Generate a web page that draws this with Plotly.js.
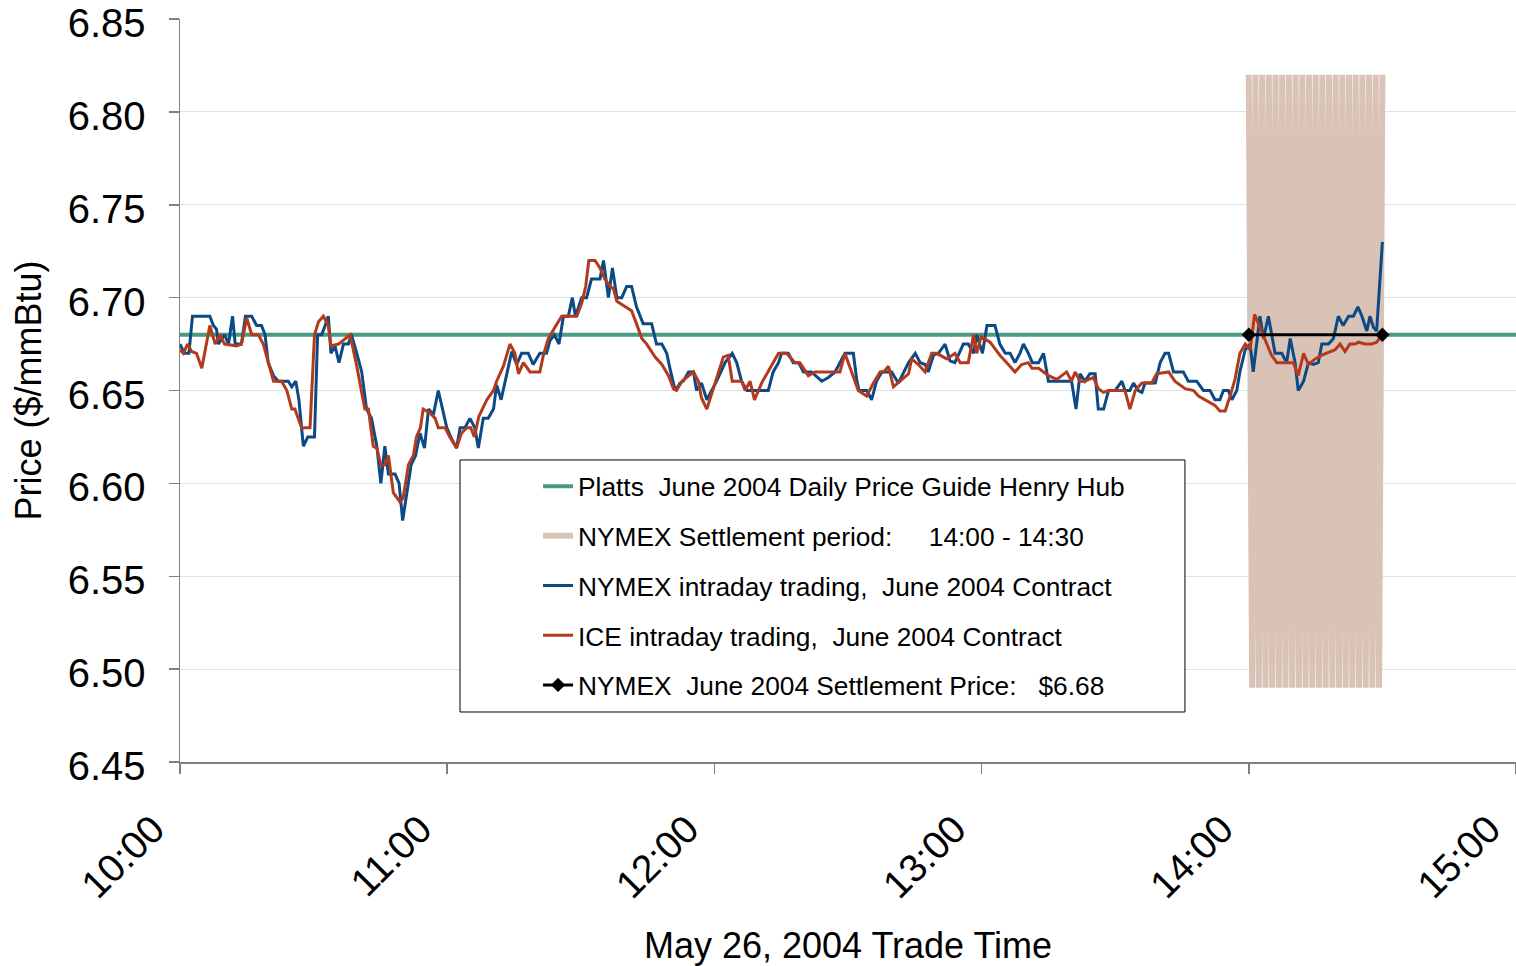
<!DOCTYPE html>
<html>
<head>
<meta charset="utf-8">
<script src="https://cdn.plot.ly/plotly-3.0.1.min.js"></script>
<style>
  html, body { margin: 0; padding: 0; background: #ffffff; }
  #chart { width: 1516px; height: 966px; }
</style>
</head>
<body>
<div id="chart"></div>
<script>
// Time is given in minutes after 10:00 on May 26, 2004
const hourTicks = [0, 60, 120, 180, 240, 300];
const hourLabels = ['10:00', '11:00', '12:00', '13:00', '14:00', '15:00'];
const priceTicks = [6.45, 6.50, 6.55, 6.60, 6.65, 6.70, 6.75, 6.80, 6.85];

// Platts June 2004 Daily Price Guide Henry Hub
const plattsT = [0, 300];
const plattsP = [6.68, 6.68];

// NYMEX settlement period 14:00 - 14:30 (drawn as a dense zig-zag band)
const settleBandT = [240, 240.75, 241.5, 242.25, 243, 243.75, 244.5, 245.25, 246, 246.75,
  247.5, 248.25, 249, 249.75, 250.5, 251.25, 252, 252.75, 253.5, 254.25,
  255, 255.75, 256.5, 257.25, 258, 258.75, 259.5, 260.25, 261, 261.75,
  262.5, 263.25, 264, 264.75, 265.5, 266.25, 267, 267.75, 268.5, 269.25, 270];
const settleBandP = [6.82, 6.49, 6.82, 6.49, 6.82, 6.49, 6.82, 6.49, 6.82, 6.49,
  6.82, 6.49, 6.82, 6.49, 6.82, 6.49, 6.82, 6.49, 6.82, 6.49,
  6.82, 6.49, 6.82, 6.49, 6.82, 6.49, 6.82, 6.49, 6.82, 6.49,
  6.82, 6.49, 6.82, 6.49, 6.82, 6.49, 6.82, 6.49, 6.82, 6.49, 6.82];

// NYMEX intraday trading, June 2004 contract
const nymexT = [0, 1, 2, 2.8, 6.7, 7.5, 8.2, 8.6, 10, 10.9, 11.8, 12.4, 13.8, 14.7, 16.1, 17.2, 18.3, 19.1, 19.8, 21,
  22.1, 24.3, 25.1, 26, 26.7, 27.7, 28.7, 30.2, 30.9, 31.8, 32.6, 33.3, 33.9, 34.8, 35.7, 36.7, 37.8, 38.5, 39.7, 40.8,
  41.9, 43, 44.2, 45.1, 46, 46.8, 48.3, 49.2, 50, 50.9, 51.9, 52.9, 53.9, 54.9, 55.8, 56.9, 58, 59.9, 61, 62.1,
  62.9, 64, 65.1, 66.2, 67, 68.1, 69.2, 70.4, 71.1, 72.1, 73.4, 74.5, 75.6, 76.7, 78.2, 79.3, 80.8, 82.3, 83.1, 84.1,
  85.1, 86.1, 87.2, 88.1, 88.8, 90.2, 91.3, 92.4, 94.3, 95.1, 96.2, 97.1, 98.1, 99.2, 100.3, 101.4, 102.5, 104, 105.9, 107,
  108.2, 109.3, 110, 111.2, 112.3, 113, 114.2, 115.3, 116, 117.1, 118.3, 120.5, 122.4, 124, 125, 126.1, 127.3, 130.6, 132.1, 133.2,
  134.4, 135.1, 136.6, 137.7, 138.9, 140, 141.8, 144.1, 145.6, 147.1, 148.2, 149.3, 151.2, 152, 152.5, 154.2, 155.3, 156.4, 157.6, 159.8,
  161.3, 162.4, 163.6, 165.1, 166.2, 167.3, 168, 169.2, 170.3, 171.8, 172.9, 174, 175.9, 177, 178.2, 178.9, 180.2, 181.2, 183, 184.1,
  185.3, 186.4, 187.5, 188.6, 189.4, 190.5, 191.4, 192.8, 193.9, 195, 199.5, 200.2, 201.2, 202.1, 203.2, 204.3, 205.5, 206.2, 207.4, 208.5,
  210, 211.5, 212.2, 213.3, 214.1, 215.2, 216, 216.7, 219, 220.1, 221.2, 222, 223.1, 225.3, 226.4, 228.3, 229.8, 231.3, 232.4, 233.5,
  234.3, 235.4, 236.2, 237.3, 238, 239.2, 240.3, 241, 242.5, 243.3, 244.4, 245.1, 245.9, 247.4, 248.5, 249.3, 250.4, 251.1, 252.3, 253.4,
  254.5, 255.6, 256.4, 257.9, 259, 260.1, 261.2, 262.4, 263.5, 264.5, 265.4, 266.5, 267.2, 268, 268.7, 270];
const nymexP = [6.675, 6.67, 6.67, 6.69, 6.69, 6.685, 6.683, 6.675, 6.68, 6.675, 6.69, 6.675, 6.675, 6.69, 6.69, 6.685, 6.685, 6.68, 6.665, 6.658,
  6.655, 6.655, 6.652, 6.655, 6.645, 6.62, 6.625, 6.625, 6.68, 6.68, 6.685, 6.69, 6.67, 6.674, 6.665, 6.675, 6.675, 6.68, 6.67, 6.66,
  6.64, 6.635, 6.62, 6.60, 6.62, 6.605, 6.605, 6.60, 6.58, 6.595, 6.61, 6.615, 6.627, 6.619, 6.64, 6.637, 6.65, 6.63, 6.624, 6.619,
  6.63, 6.63, 6.635, 6.63, 6.619, 6.635, 6.635, 6.64, 6.653, 6.645, 6.66, 6.671, 6.664, 6.67, 6.67, 6.664, 6.67, 6.67, 6.677, 6.68,
  6.675, 6.69, 6.69, 6.70, 6.69, 6.70, 6.70, 6.71, 6.71, 6.72, 6.70, 6.716, 6.70, 6.70, 6.706, 6.706, 6.695, 6.686, 6.686, 6.675,
  6.675, 6.67, 6.662, 6.65, 6.654, 6.655, 6.66, 6.66, 6.65, 6.654, 6.645, 6.655, 6.665, 6.67, 6.665, 6.655, 6.65, 6.65, 6.65, 6.66,
  6.665, 6.67, 6.67, 6.665, 6.665, 6.66, 6.66, 6.655, 6.657, 6.66, 6.665, 6.67, 6.67, 6.655, 6.65, 6.65, 6.645, 6.655, 6.66, 6.66,
  6.654, 6.659, 6.665, 6.67, 6.665, 6.664, 6.66, 6.669, 6.67, 6.675, 6.666, 6.665, 6.675, 6.675, 6.67, 6.68, 6.67, 6.685, 6.685, 6.675,
  6.67, 6.67, 6.665, 6.67, 6.675, 6.67, 6.665, 6.665, 6.67, 6.655, 6.655, 6.655, 6.64, 6.659, 6.655, 6.659, 6.659, 6.64, 6.64, 6.65,
  6.65, 6.655, 6.65, 6.65, 6.654, 6.65, 6.649, 6.654, 6.654, 6.665, 6.67, 6.67, 6.66, 6.66, 6.655, 6.655, 6.65, 6.65, 6.645, 6.645,
  6.65, 6.65, 6.645, 6.65, 6.66, 6.672, 6.675, 6.66, 6.69, 6.678, 6.69, 6.68, 6.67, 6.67, 6.665, 6.678, 6.665, 6.65, 6.655, 6.665,
  6.664, 6.665, 6.675, 6.675, 6.678, 6.69, 6.685, 6.69, 6.69, 6.695, 6.69, 6.682, 6.69, 6.684, 6.682, 6.73];

// ICE intraday trading, June 2004 contract
const iceT = [0, 0.75, 1.7, 2.6, 3.7, 4.9, 6.7, 7.9, 9, 10, 12.7, 13.8, 15, 16.1, 17.6, 18.7, 21, 22.8, 24, 25.1,
  25.8, 27.3, 29.2, 30.2, 31.1, 32.2, 33.3, 33.9, 35.6, 36.7, 38.2, 39.7, 41.5, 42.3, 43.4, 44.2, 45.1, 46, 46.8, 47.9,
  49.4, 50.1, 51.3, 52.4, 53.1, 54, 54.6, 56.1, 57.3, 58, 59.5, 60.6, 62.1, 63.2, 64.4, 65.3, 66.1, 67.1, 68.9, 70.4,
  71.1, 72.6, 74.1, 75.2, 76, 77.1, 78.6, 79.7, 80.8, 81.6, 82.7, 84.2, 85.7, 87.2, 89.1, 90.2, 91.1, 91.8, 93.2, 94.3,
  95.4, 96.6, 97.3, 98.1, 99.5, 101.4, 102.5, 103.7, 104.8, 106.7, 108.2, 109.7, 110.8, 111.5, 112.7, 114.2, 115.3, 116.4, 117.1, 118.3,
  120.9, 122, 123.1, 124, 126.1, 126.9, 128, 129, 130.6, 132.5, 134.4, 136.2, 138.1, 139.2, 141.1, 142.6, 148.2, 149.3, 152.3, 154.2,
  155.7, 157.2, 158, 159.1, 160.2, 161.7, 163.6, 164.3, 165.8, 167.3, 168.8, 169.9, 172.2, 174, 175.2, 177, 178.2, 178.9, 179.9, 181.9,
  184.1, 186, 187.5, 189, 190.5, 191.3, 192.8, 195, 196.9, 198, 199.1, 200.2, 201, 202.1, 203.2, 205.1, 206.2, 207.4, 208.5, 212.2,
  213.3, 214.5, 216, 218.2, 219.3, 222, 223.4, 225.7, 227.6, 228.7, 230.2, 232.4, 233.5, 234.7, 235.8, 236.9, 238, 239.2, 240.3, 241.3,
  242.5, 244, 245.1, 246.3, 250, 251.1, 252.3, 253.4, 254.9, 256.4, 258.2, 259.4, 260.5, 261.6, 262.7, 263.9, 264.6, 266.1, 267.6, 268.7, 270];
const iceP = [6.672, 6.67, 6.675, 6.671, 6.67, 6.662, 6.685, 6.675, 6.68, 6.675, 6.674, 6.675, 6.689, 6.68, 6.68, 6.675, 6.655, 6.655, 6.65, 6.64,
  6.64, 6.63, 6.63, 6.68, 6.687, 6.69, 6.685, 6.674, 6.675, 6.677, 6.68, 6.663, 6.64, 6.64, 6.62, 6.619, 6.61, 6.61, 6.615, 6.595,
  6.59, 6.592, 6.61, 6.615, 6.625, 6.63, 6.64, 6.638, 6.635, 6.63, 6.63, 6.625, 6.619, 6.627, 6.63, 6.63, 6.625, 6.636, 6.645, 6.65,
  6.655, 6.663, 6.675, 6.67, 6.659, 6.665, 6.66, 6.66, 6.66, 6.669, 6.678, 6.684, 6.69, 6.69, 6.69, 6.697, 6.706, 6.72, 6.72, 6.716,
  6.71, 6.706, 6.705, 6.698, 6.696, 6.693, 6.686, 6.678, 6.675, 6.668, 6.664, 6.658, 6.651, 6.65, 6.655, 6.658, 6.66, 6.655, 6.646, 6.64,
  6.66, 6.668, 6.669, 6.655, 6.655, 6.65, 6.655, 6.645, 6.654, 6.662, 6.67, 6.67, 6.665, 6.665, 6.658, 6.66, 6.66, 6.67, 6.65, 6.647,
  6.654, 6.66, 6.66, 6.663, 6.652, 6.655, 6.659, 6.667, 6.664, 6.66, 6.67, 6.67, 6.667, 6.67, 6.665, 6.665, 6.68, 6.67, 6.679, 6.676,
  6.669, 6.664, 6.66, 6.664, 6.665, 6.662, 6.662, 6.658, 6.656, 6.658, 6.66, 6.655, 6.66, 6.655, 6.655, 6.657, 6.651, 6.649, 6.65, 6.65,
  6.64, 6.65, 6.654, 6.654, 6.659, 6.66, 6.655, 6.651, 6.65, 6.647, 6.645, 6.642, 6.639, 6.639, 6.647, 6.656, 6.67, 6.675, 6.672, 6.691,
  6.684, 6.675, 6.669, 6.665, 6.665, 6.658, 6.67, 6.664, 6.667, 6.669, 6.671, 6.672, 6.675, 6.671, 6.675, 6.675, 6.676, 6.675, 6.675, 6.676, 6.68];

// NYMEX June 2004 settlement price $6.68
const settleT = [240, 270];
const settleP = [6.68, 6.68];

const NB = '\u00a0';
const traces = [
  {
    x: plattsT, y: plattsP, mode: 'lines', type: 'scatter',
    name: 'Platts' + NB + ' June 2004 Daily Price Guide Henry Hub',
    line: {color: '#4a9a80', width: 4}, legendgroup: 'a'
  },
  {
    x: settleBandT, y: settleBandP, mode: 'lines', type: 'scatter',
    name: 'NYMEX Settlement period:' + NB + NB + NB + NB + ' 14:00 - 14:30',
    line: {color: '#d9c3b6', width: 6}, legendgroup: 'b'
  },
  {
    x: nymexT, y: nymexP, mode: 'lines', type: 'scatter',
    name: 'NYMEX intraday trading,' + NB + ' June 2004 Contract',
    line: {color: '#0b4a84', width: 3}, legendgroup: 'c'
  },
  {
    x: iceT, y: iceP, mode: 'lines', type: 'scatter',
    name: 'ICE intraday trading,' + NB + ' June 2004 Contract',
    line: {color: '#b43a1e', width: 3}, legendgroup: 'd'
  },
  {
    x: settleT, y: settleP, mode: 'lines+markers', type: 'scatter',
    name: 'NYMEX' + NB + ' June 2004 Settlement Price:' + NB + NB + ' $6.68',
    line: {color: '#000000', width: 3},
    marker: {symbol: 'diamond', size: 11, color: '#000000'}, legendgroup: 'e'
  }
];

const fontFam = '"Liberation Sans", Arial, Helvetica, sans-serif';

const layout = {
  width: 1516, height: 966,
  margin: {l: 180, r: 0, t: 19, b: 204, pad: 0},
  paper_bgcolor: '#ffffff', plot_bgcolor: '#ffffff',
  font: {family: fontFam, color: '#000000'},
  showlegend: true,
  legend: {
    x: 0.268, y: 0.403, xanchor: 'left', yanchor: 'top',
    bgcolor: 'rgba(0,0,0,0)', borderwidth: 0,
    font: {size: 26.3, family: fontFam, color: '#000000'},
    traceorder: 'grouped', tracegroupgap: 12.5
  },
  shapes: [{
    type: 'rect', xref: 'paper', yref: 'paper', layer: 'above',
    x0: 0.2096, x1: 0.7522, y0: 0.0673, y1: 0.4065,
    fillcolor: '#ffffff', line: {color: '#000000', width: 1}
  }],
  xaxis: {
    range: [0, 300], tickvals: hourTicks, ticktext: hourLabels,
    tickangle: -45, tickfont: {size: 39, family: fontFam},
    ticks: 'outside', ticklen: 10, tickcolor: '#808080', tickwidth: 1.5,
    ticklabelstandoff: 17, ticklabelshift: -27, ticklabeloverflow: 'allow',
    showline: true, linecolor: '#808080', linewidth: 1.5,
    showgrid: false, zeroline: false,
    title: {text: 'May 26, 2004 Trade Time', font: {size: 36, family: fontFam}, standoff: 33}
  },
  yaxis: {
    range: [6.45, 6.85], tickvals: priceTicks, tickformat: '.2f',
    tickfont: {size: 40, family: fontFam},
    ticks: 'outside', ticklen: 10, tickcolor: '#808080', tickwidth: 1.5,
    ticklabelstandoff: 15, ticklabelshift: 4, ticklabeloverflow: 'allow',
    showline: true, linecolor: '#808080', linewidth: 1.5,
    showgrid: true, gridcolor: '#d9e4e4', gridwidth: 1, zeroline: false,
    title: {text: 'Price ($/mmBtu)', font: {size: 36, family: fontFam}, standoff: 15}
  }
};

Plotly.newPlot('chart', traces, layout, {staticPlot: true, displayModeBar: false});
</script>
</body>
</html>
